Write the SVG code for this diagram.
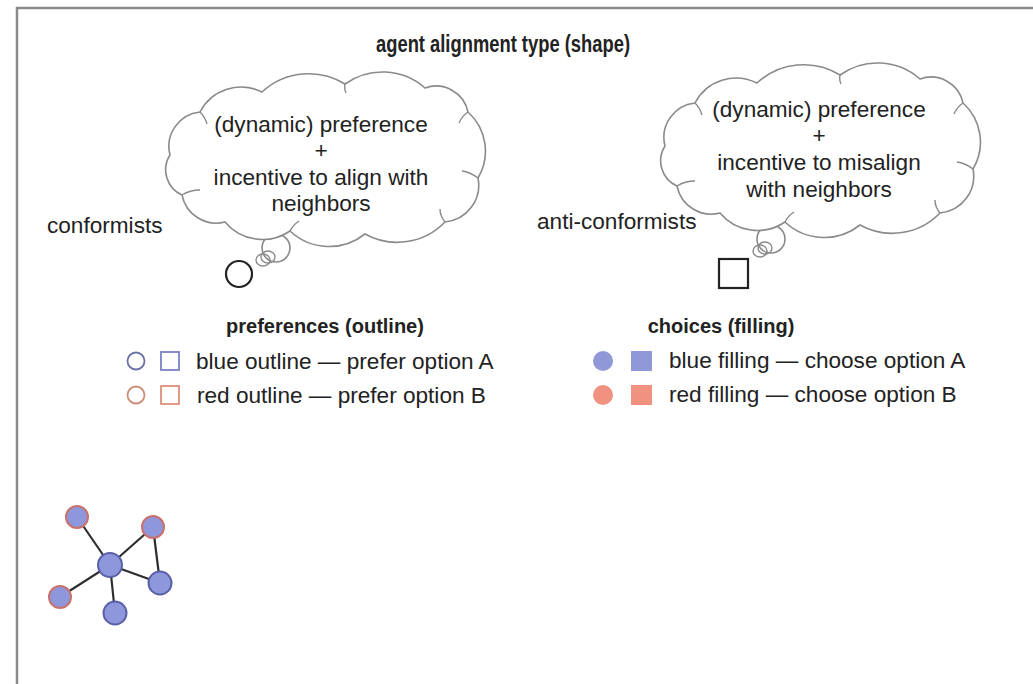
<svg xmlns="http://www.w3.org/2000/svg" width="1033" height="684" viewBox="0 0 1033 684">
<style>
  text { font-family: "Liberation Sans", Arial, sans-serif; fill: #222; }
  .t { font-size: 22.6px; }
  .h { font-size: 20px; font-weight: bold; }
  .c { text-anchor: middle; }
  .cloud { fill: #fff; stroke: #8a8a8a; stroke-width: 1.6; }
  .curl { fill: none; stroke: #8a8a8a; stroke-width: 1.4; }
  .edge { stroke: #2e2e2e; stroke-width: 2.2; }
  .nb { fill: #8e96dc; stroke: #5a61a8; stroke-width: 2; }
  .nr { fill: #8e96dc; stroke: #c9716c; stroke-width: 2; }
</style>
<defs>
  <path id="cloudShape" d="M170,155 A34.6,34.6 0 0 1 200,112 A46.5,46.5 0 0 1 262,92 A69,69 0 0 1 345,84 A64.4,64.4 0 0 1 425,88 A32.6,32.6 0 0 1 468,112 A52.5,52.5 0 0 1 478,178 A37,37 0 0 1 445,222 A66.5,66.5 0 0 1 365,234 A57.4,57.4 0 0 1 290,231 A48.8,48.8 0 0 1 225,222 A35,35 0 0 1 182,195 A27.6,27.6 0 0 1 170,155 Z"/>
  <path id="cloudCurls" d="M200,112 q5,5 7,12 M182,195 q8,-5 18,-5 M290,231 q3,-6 9,-10 M445,222 q-5,-6 -5,-13 M468,112 q-6,4 -9,11 M345,84 q-1,5 1,9 M478,178 q-8,-6 -16,-7"/>
</defs>
<g id="frame">
  <line x1="16" y1="8" x2="1033" y2="8" stroke="#8a8a8a" stroke-width="2.5"/>
  <line x1="17" y1="7" x2="17" y2="684" stroke="#8a8a8a" stroke-width="2.5"/>
</g>
<g id="title">
  <text class="h c" x="503" y="52" style="font-size:23px" textLength="254" lengthAdjust="spacingAndGlyphs">agent alignment type (shape)</text>
</g>
<g id="conformist-cloud">
  <circle cx="276" cy="248" r="14" class="cloud"/>
  <use href="#cloudShape" class="cloud"/>
  <use href="#cloudCurls" class="curl"/>
  <ellipse cx="263" cy="260" rx="7" ry="6" class="curl"/>
  <ellipse cx="268" cy="257" rx="7" ry="6" class="curl"/>
  <text class="t c" x="321" y="132">(dynamic) preference</text>
  <text class="t c" x="321" y="158">+</text>
  <text class="t c" x="321" y="185">incentive to align with</text>
  <text class="t c" x="321" y="211">neighbors</text>
</g>
<g id="conformists">
  <text class="t" x="47" y="233">conformists</text>
  <circle cx="239" cy="274" r="13" fill="none" stroke="#222" stroke-width="2.2"/>
</g>
<g id="anticonformist-cloud" transform="translate(495,-9)">
  <circle cx="276" cy="248" r="14" class="cloud"/>
  <use href="#cloudShape" class="cloud"/>
  <use href="#cloudCurls" class="curl"/>
  <ellipse cx="265" cy="260" rx="7" ry="6" class="curl"/>
  <ellipse cx="270" cy="257" rx="7" ry="6" class="curl"/>
</g>
<g id="anticonformist-text">
  <text class="t c" x="819" y="117">(dynamic) preference</text>
  <text class="t c" x="819" y="143">+</text>
  <text class="t c" x="819" y="170">incentive to misalign</text>
  <text class="t c" x="819" y="197">with neighbors</text>
</g>
<g id="anti-conformists">
  <text class="t" x="537" y="229">anti-conformists</text>
  <rect x="719" y="259" width="29" height="29" fill="none" stroke="#222" stroke-width="2.2"/>
</g>
<g id="preferences-legend">
  <text class="h c" x="325" y="333">preferences (outline)</text>
  <circle cx="136" cy="361" r="8.5" fill="none" stroke="#6b70a8" stroke-width="1.8"/>
  <rect x="161" y="352" width="18" height="18" fill="none" stroke="#7a82c4" stroke-width="1.8"/>
  <text class="t" x="196" y="369">blue outline — prefer option A</text>
  <circle cx="136" cy="395" r="8.5" fill="none" stroke="#cf8a7a" stroke-width="1.8"/>
  <rect x="161" y="386" width="18" height="18" fill="none" stroke="#e08f7c" stroke-width="1.8"/>
  <text class="t" x="197" y="403">red outline — prefer option B</text>
</g>
<g id="choices-legend">
  <text class="h c" x="721" y="333">choices (filling)</text>
  <circle cx="603" cy="361" r="10" fill="#9198d8"/>
  <rect x="631" y="351" width="21" height="20" fill="#9198d8"/>
  <text class="t" x="669" y="368">blue filling — choose option A</text>
  <circle cx="603" cy="395" r="10" fill="#f0927f"/>
  <rect x="631" y="385" width="21" height="20" fill="#f0927f"/>
  <text class="t" x="669" y="402">red filling — choose option B</text>
</g>
<g id="connectors">
  <line class="edge" x1="110" y1="565" x2="77" y2="517"/>
  <line class="edge" x1="110" y1="565" x2="153" y2="527"/>
  <line class="edge" x1="153" y1="527" x2="160" y2="583"/>
  <line class="edge" x1="110" y1="565" x2="160" y2="583"/>
  <line class="edge" x1="110" y1="565" x2="60" y2="597"/>
  <line class="edge" x1="110" y1="565" x2="115" y2="613"/>
</g>
<g id="node-a"><circle class="nr" cx="77" cy="517" r="11"/></g>
<g id="node-b"><circle class="nr" cx="153" cy="527" r="11"/></g>
<g id="node-c"><circle class="nb" cx="110" cy="565" r="12"/></g>
<g id="node-d"><circle class="nb" cx="160" cy="583" r="11.5"/></g>
<g id="node-e"><circle class="nr" cx="60" cy="597" r="11"/></g>
<g id="node-f"><circle class="nb" cx="115" cy="613" r="11.5"/></g>
</svg>
